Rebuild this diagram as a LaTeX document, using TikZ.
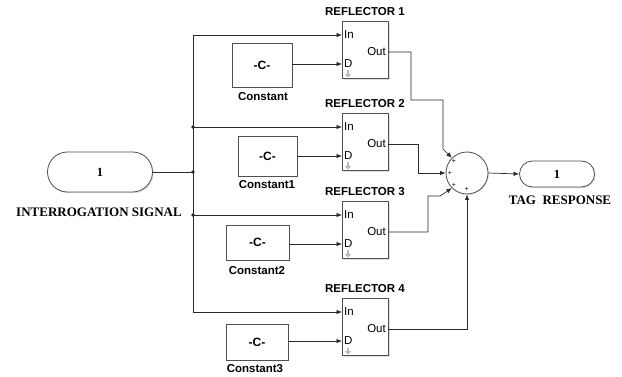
\documentclass[tikz,border=0pt]{standalone}
\usepackage{fontspec}
\setmainfont{Liberation Serif}
\setsansfont{Liberation Sans}
\usetikzlibrary{arrows.meta,shadows}
\definecolor{lc}{HTML}{2A2A2A}
\definecolor{bc}{HTML}{505050}
\newcommand\reflectorblk[3]{%
  \node[blk, minimum width=46, minimum height=57, anchor=north west] (#1) at (342,#2) {};
  \coordinate (#1in) at (342,{#2+14});
  \coordinate (#1d) at (342,{#2+43});
  \coordinate (#1out) at (388,{#2+31});
  \node[plbl, anchor=west] (#1inl) at (#1in) {In};
  \node[plbl, anchor=west] (#1dl) at (#1d) {D};
  \node[plbl, anchor=east] (#1outl) at (#1out) {Out};
  \node[ttl] (#1t) at (365,{#2-9}) {REFLECTOR #3};
  \draw[gray!55, line width=1.6pt, -{Triangle[length=3.5pt,width=6pt]}] (348,{#2+49.5}) -- (348,{#2+56.5});
}
\begin{document}
\begin{tikzpicture}[x=1pt,y=-1pt,
  conn/.style={draw=lc, line width=0.7pt},
  arr/.style={conn, -{Latex[length=5.5pt,width=4.5pt]}},
  blk/.style={draw=bc, fill=white, line width=0.8pt,
     drop shadow={opacity=0.25, shadow xshift=1.2pt, shadow yshift=-1.2pt}},
  port/.style={draw=bc, fill=white, line width=0.8pt,
     drop shadow={opacity=0.25, shadow xshift=1.2pt, shadow yshift=-1.2pt},
     font=\fontsize{12.5}{14}\selectfont\bfseries},
  plbl/.style={inner sep=2pt, font=\sffamily\fontsize{11.5}{13}\selectfont},
  ttl/.style={inner sep=0pt, font=\sffamily\bfseries\fontsize{11.5}{13}\selectfont},
  clbl/.style={inner sep=0pt, font=\sffamily\bfseries\fontsize{11.5}{13}\selectfont},
  cval/.style={font=\sffamily\bfseries\fontsize{12}{14}\selectfont},
  portlbl/.style={inner sep=0pt, font=\bfseries\fontsize{13}{15}\selectfont},
  plus/.style={inner sep=0pt, font=\sffamily\fontsize{7}{7}\selectfont},
  dot/.style={circle, fill=lc, inner sep=0pt, minimum size=3.6pt}
]
\useasboundingbox[fill=white] (0,0) rectangle (622,377);

% input port
\node[port, minimum width=105, minimum height=40, rounded corners=20] (inp) at (100,172) {1};
\node[portlbl] (inpl) at (99,212) {INTERROGATION SIGNAL};

% output port
\node[port, minimum width=75, minimum height=26, rounded corners=13] (outp) at (557,174) {1};
\node[portlbl] (outpl) at (560,200) {TAG\enspace RESPONSE};

% reflectors
\reflectorblk{ra}{21}{1}
\reflectorblk{rb}{113}{2}
\reflectorblk{rc}{201}{3}
\reflectorblk{rd}{298}{4}

% constants
\node[blk, cval, minimum width=60, minimum height=44] (c0) at (262,65) {-C-};
\node[clbl] (c0l) at (263,97) {Constant};
\node[blk, cval, minimum width=59, minimum height=40] (c1) at (267.5,156) {-C-};
\node[clbl] (c1l) at (267,185) {Constant1};
\node[blk, cval, minimum width=63, minimum height=35] (c2) at (257.5,242.5) {-C-};
\node[clbl] (c2l) at (257,271) {Constant2};
\node[blk, cval, minimum width=62, minimum height=36] (c3) at (257,342) {-C-};
\node[clbl] (c3l) at (255,369) {Constant3};

% sum
\node[circle, draw=bc, fill=white, line width=0.8pt, minimum size=42,
  drop shadow={opacity=0.2, shadow xshift=1pt, shadow yshift=-1pt}] (sum) at (467,173) {};
\node[plus] (p1) at (454,161) {+};
\node[plus] (p2) at (450,173) {+};
\node[plus] (p3) at (454,185) {+};
\node[plus] (p4) at (467,189.5) {+};

% bus
\coordinate (bus1) at (193,35);
\coordinate (bus2) at (193,127);
\coordinate (busm) at (193,172);
\coordinate (bus3) at (193,215);
\coordinate (bus4) at (193,312);
\draw[conn] (inp.east) -- (busm);
\draw[conn] (bus1) -- (bus4);
\node[dot] at (bus2) {};
\node[dot] at (busm) {};
\node[dot] at (bus3) {};
\draw[arr] (bus1) -- (rain);
\draw[arr] (bus2) -- (rbin);
\draw[arr] (bus3) -- (rcin);
\draw[arr] (bus4) -- (rdin);

% constants to D
\draw[arr] (c0.east |- rad) -- (rad);
\draw[arr] (c1.east |- rbd) -- (rbd);
\draw[arr] (c2.east |- rcd) -- (rcd);
\draw[arr] (c3.east |- rdd) -- (rdd);

% outputs to sum
\draw[arr] (raout) -| (411,100) -| (443,149) -- (sum.135);
\draw[arr] (rbout) -- ++(30,0) |- (sum.west);
\draw[arr] (rcout) -- (428,232) -- (428,196) -- (440,196) -- (sum.225);
\draw[arr] (rdout) -| (sum.south);

% sum to output
\draw[arr] (sum.east) -- (outp.west);
\end{tikzpicture}
\end{document}
